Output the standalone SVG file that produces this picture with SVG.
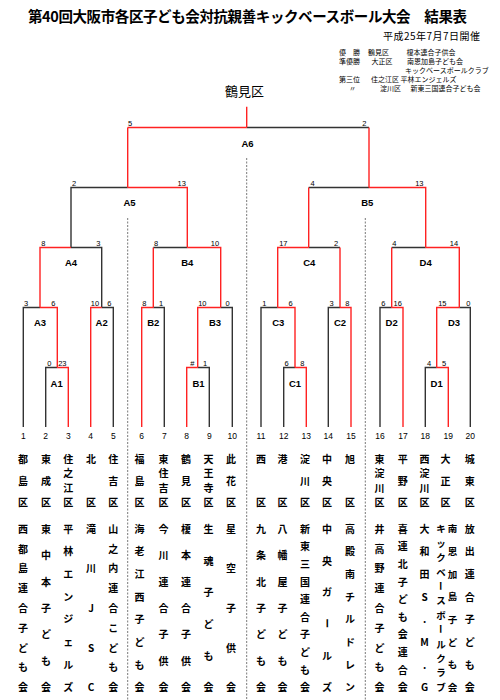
<svg xmlns="http://www.w3.org/2000/svg" width="500" height="700" viewBox="0 0 500 700">
<style>
.j{font-family:"Noto Sans CJK JP","Noto Sans CJK SC",sans-serif;fill:#000}
.n{font-family:"Liberation Sans",Arial,sans-serif;fill:#000}
.c{text-anchor:middle;dominant-baseline:central}
.sc{font-size:7.5px}
.ml{font-size:9.5px;font-weight:bold}
.tn{font-size:8.5px}
.v{font-size:10px;font-weight:bold}
.vs{font-size:9.5px;font-weight:bold}
.r{font-size:7px;dominant-baseline:central}
.l{fill:none;stroke:#333;stroke-width:1.4}
.w{fill:none;stroke:#f22;stroke-width:1.4}
.d{fill:none;stroke:#555;stroke-width:0.8;stroke-dasharray:2 1.5}
</style>

<g id="header">
<text class="j" x="28" y="15" font-size="14.5" font-weight="bold" dominant-baseline="central" textLength="439">第40回大阪市各区子ども会対抗親善キックベースボール大会　結果表</text>
<text class="j" x="383" y="35" font-size="10" dominant-baseline="central" textLength="97">平成25年7月7日開催</text>
<g id="results">
<text class="j r" x="339" y="52.3">優　勝</text>
<text class="j r" x="368" y="52.3">鶴見区</text>
<text class="j r" x="406.5" y="52.3">榎本連合子供会</text>
<text class="j r" x="339" y="61.3">準優勝</text>
<text class="j r" x="371.5" y="61.3">大正区</text>
<text class="j r" x="407" y="61.3">南恩加島子ども会</text>
<text class="j r" x="405" y="69.8">キックベースボールクラブ</text>
<text class="j r" x="339" y="78.7">第三位</text>
<text class="j r" x="371" y="78.7">住之江区</text>
<text class="j r" x="400.5" y="78.7">平林エンジェルズ</text>
<text class="j r" x="349" y="87.7">〃</text>
<text class="j r" x="380" y="87.7">淀川区</text>
<text class="j r" x="410.5" y="87.7">新東三国連合子ども会</text>
</g>
<text id="champion" class="j c" x="244.5" y="90" font-size="13">鶴見区</text>
</g>

<g id="connectors">
<path class="d" d="M127.7 218V700M246.7 158V700M365.3 218V700"/>
<path class="l" d="M246.7 127.5H369
M127.7 187.5H71V247.5
M71 247.5H101.7V307.5
M40 307.5H23.3V427
M57.3 367.5H45.7V427
M101.7 307.5H113.3V427
M369 187.5H308.7
M187.3 247.5H153.3
M153.3 307.5H164.3V427
M220.7 307.5H232.3V427
M197.7 367.5H209.3V427
M308.7 247.5H340
M277.7 307.5H261V427
M295 367.5H283.7V427
M340 307.5H328.3V427
M425.7 247.5H391.7
M391.7 307.5H380V427
M459.3 307.5H470.3V427
M436.7 367.5H425.3V427"/>
<path class="w" d="M246.7 106.7V127.5
M127.7 127.5H246.7
M127.7 127.5V187.5
M369 127.5V187.5
M127.7 187.5H187.3V247.5
M187.3 247.5H220.7V307.5
M153.3 247.5V307.5
M220.7 307.5H197.7V367.5
M197.7 367.5H186.7V427
M153.3 307.5H141.7V427
M369 187.5H425.7V247.5
M308.7 187.5V247.5
M308.7 247.5H277.7V307.5
M340 247.5V307.5
M277.7 307.5H295V367.5
M295 367.5H306.3V427
M340 307.5H351V427
M425.7 247.5H459.3V307.5
M391.7 247.5V307.5
M459.3 307.5H436.7V367.5
M436.7 367.5H448.3V427
M391.7 307.5H403V427
M71 247.5H40V307.5
M40 307.5H57.3V367.5
M57.3 367.5H68.3V427
M101.7 307.5H90.7V427"/>
</g>

<g id="match-A6"><text class="n c ml" x="247.5" y="143">A6</text><text class="n c sc" x="130" y="123.3">5</text><text class="n c sc" x="364.3" y="123.3">2</text></g>
<g id="match-A5"><text class="n c ml" x="129.5" y="202.7">A5</text><text class="n c sc" x="74" y="183.5">2</text><text class="n c sc" x="181.7" y="183.5">13</text></g>
<g id="match-B5"><text class="n c ml" x="367.3" y="202.7">B5</text><text class="n c sc" x="312.7" y="183.5">4</text><text class="n c sc" x="419.3" y="183.5">13</text></g>
<g id="match-A4"><text class="n c ml" x="71" y="262.7">A4</text><text class="n c sc" x="43.3" y="243.5">8</text><text class="n c sc" x="98.3" y="243.5">3</text></g>
<g id="match-B4"><text class="n c ml" x="187.3" y="262.7">B4</text><text class="n c sc" x="156" y="243.5">8</text><text class="n c sc" x="215" y="243.5">10</text></g>
<g id="match-C4"><text class="n c ml" x="309.3" y="262.7">C4</text><text class="n c sc" x="283.3" y="243.5">17</text><text class="n c sc" x="336" y="243.5">2</text></g>
<g id="match-D4"><text class="n c ml" x="425.7" y="262.7">D4</text><text class="n c sc" x="394.3" y="243.5">4</text><text class="n c sc" x="454" y="243.5">14</text></g>
<g id="match-A3"><text class="n c ml" x="40" y="322.7">A3</text><text class="n c sc" x="26" y="303.5">3</text><text class="n c sc" x="53.3" y="303.5">6</text></g>
<g id="match-A2"><text class="n c ml" x="101.7" y="322.7">A2</text><text class="n c sc" x="95" y="303.5">10</text><text class="n c sc" x="109.3" y="303.5">6</text></g>
<g id="match-B2"><text class="n c ml" x="153.3" y="322.7">B2</text><text class="n c sc" x="144.3" y="303.5">8</text><text class="n c sc" x="161" y="303.5">1</text></g>
<g id="match-B3"><text class="n c ml" x="215" y="322.7">B3</text><text class="n c sc" x="202.3" y="303.5">10</text><text class="n c sc" x="227.7" y="303.5">0</text></g>
<g id="match-C3"><text class="n c ml" x="278.3" y="322.7">C3</text><text class="n c sc" x="264.3" y="303.5">1</text><text class="n c sc" x="290.7" y="303.5">6</text></g>
<g id="match-C2"><text class="n c ml" x="340" y="322.7">C2</text><text class="n c sc" x="331.7" y="303.5">3</text><text class="n c sc" x="347.3" y="303.5">8</text></g>
<g id="match-D2"><text class="n c ml" x="391.7" y="322.7">D2</text><text class="n c sc" x="383.3" y="303.5">6</text><text class="n c sc" x="397.7" y="303.5">16</text></g>
<g id="match-D3"><text class="n c ml" x="454" y="322.7">D3</text><text class="n c sc" x="442.3" y="303.5">15</text><text class="n c sc" x="468.3" y="303.5">0</text></g>
<g id="match-A1"><text class="n c ml" x="56.7" y="383.3">A1</text><text class="n c sc" x="49.3" y="363.3">0</text><text class="n c sc" x="62.3" y="363.3">23</text></g>
<g id="match-B1"><text class="n c ml" x="198.5" y="383.3">B1</text><text class="n c sc" x="192.3" y="363.3">#</text><text class="n c sc" x="205" y="363.3">1</text></g>
<g id="match-C1"><text class="n c ml" x="295" y="383.3">C1</text><text class="n c sc" x="286.7" y="363.3">6</text><text class="n c sc" x="302.3" y="363.3">8</text></g>
<g id="match-D1"><text class="n c ml" x="436.7" y="383.3">D1</text><text class="n c sc" x="429" y="363.3">4</text><text class="n c sc" x="444" y="363.3">5</text></g>

<g id="team-1"><text class="n c tn" x="23.3" y="436">1</text>
<text class="j c v" x="23 23 23" y="458 480 501">都島区</text>
<text class="j c v" x="23 23 23 23 23 23 23 23 23" y="528.3 548.1 567.9 587.7 607.5 627.3 647.1 666.9 686.7">西都島連合子ども会</text></g>
<g id="team-2"><text class="n c tn" x="45.7" y="436">2</text>
<text class="j c v" x="46 46 46" y="458 480 501">東成区</text>
<text class="j c v" x="46 46 46 46 46 46 46" y="528.3 554.7 581.1 607.5 633.9 660.3 686.7">東中本子ども会</text></g>
<g id="team-3"><text class="n c tn" x="68.3" y="436">3</text>
<text class="j c v" x="68.3 68.3 68.3 68.3" y="458 472.5 487 501">住之江区</text>
<text class="j c v" x="68.3 68.3 68.3 68.3 68.3 68.3 68.3 68.3" y="528.3 550.9 573.6 596.2 618.8 641.5 664.1 686.7">平林エンジェルズ</text></g>
<g id="team-4"><text class="n c tn" x="90.7" y="436">4</text>
<text class="j c v" x="91 91" y="458 501">北区</text>
<text class="j c v" x="91 91 91 91 91" y="528.3 567.9 607.5 647.1 686.7">滝川JSC</text></g>
<g id="team-5"><text class="n c tn" x="113.3" y="436">5</text>
<text class="j c v" x="113.3 113.3 113.3" y="458 480 501">住吉区</text>
<text class="j c v" x="113.3 113.3 113.3 113.3 113.3 113.3 113.3 113.3 113.3" y="528.3 548.1 567.9 587.7 607.5 627.3 647.1 666.9 686.7">山之内連合こども会</text></g>
<g id="team-6"><text class="n c tn" x="141.7" y="436">6</text>
<text class="j c v" x="139.5 139.5 139.5" y="458 480 501">福島区</text>
<text class="j c v" x="139.5 139.5 139.5 139.5 139.5 139.5 139.5 139.5" y="528.3 550.9 573.6 596.2 618.8 641.5 664.1 686.7">海老江西子ども会</text></g>
<g id="team-7"><text class="n c tn" x="164.3" y="436">7</text>
<text class="j c v" x="163.5 163.5 163.5 163.5" y="458 472.5 487 501">東住吉区</text>
<text class="j c v" x="163.5 163.5 163.5 163.5 163.5 163.5 163.5" y="528.3 554.7 581.1 607.5 633.9 660.3 686.7">今川連合子供会</text></g>
<g id="team-8"><text class="n c tn" x="186.7" y="436">8</text>
<text class="j c v" x="186 186 186" y="458 480 501">鶴見区</text>
<text class="j c v" x="186 186 186 186 186 186 186" y="528.3 554.7 581.1 607.5 633.9 660.3 686.7">榎本連合子供会</text></g>
<g id="team-9"><text class="n c tn" x="209.3" y="436">9</text>
<text class="j c v" x="208.5 208.5 208.5 208.5" y="458 472.5 487 501">天王寺区</text>
<text class="j c v" x="208.5 208.5 208.5 208.5 208.5 208.5" y="528.3 560 591.7 623.3 655 686.7">生魂子ども会</text></g>
<g id="team-10"><text class="n c tn" x="232.3" y="436">10</text>
<text class="j c v" x="231 231 231" y="458 480 501">此花区</text>
<text class="j c v" x="231 231 231 231 231" y="528.3 567.9 607.5 647.1 686.7">星空子供会</text></g>
<g id="team-11"><text class="n c tn" x="261" y="436">11</text>
<text class="j c v" x="261 261" y="458 501">西区</text>
<text class="j c v" x="261 261 261 261 261 261 261" y="528.3 554.7 581.1 607.5 633.9 660.3 686.7">九条北子ども会</text></g>
<g id="team-12"><text class="n c tn" x="283.7" y="436">12</text>
<text class="j c v" x="282.5 282.5" y="458 501">港区</text>
<text class="j c v" x="282.5 282.5 282.5 282.5 282.5 282.5 282.5" y="528.3 554.7 581.1 607.5 633.9 660.3 686.7">八幡屋子ども会</text></g>
<g id="team-13"><text class="n c tn" x="306.3" y="436">13</text>
<text class="j c v" x="305 305 305" y="458 480 501">淀川区</text>
<text class="j c v" x="305 305 305 305 305 305 305 305 305 305" y="528.3 545.9 563.5 581.1 598.7 616.3 633.9 651.5 669.1 686.7">新東三国連合子ども会</text></g>
<g id="team-14"><text class="n c tn" x="328.3" y="436">14</text>
<text class="j c v" x="327 327 327" y="458 480 501">中央区</text>
<text class="j c v" x="327 327 327" y="528.3 560 591.7">中央ガ</text>
<text class="j c v" x="327" y="623.3" transform="rotate(90 327 623.3)">ー</text>
<text class="j c v" x="327 327" y="655 686.7">ルズ</text></g>
<g id="team-15"><text class="n c tn" x="351" y="436">15</text>
<text class="j c v" x="350 350" y="458 501">旭区</text>
<text class="j c v" x="350 350 350 350 350 350 350 350" y="528.3 550.9 573.6 596.2 618.8 641.5 664.1 686.7">高殿南チルドレン</text></g>
<g id="team-16"><text class="n c tn" x="380" y="436">16</text>
<text class="j c v" x="379.5 379.5 379.5 379.5" y="458 472.5 487 501">東淀川区</text>
<text class="j c v" x="379.5 379.5 379.5 379.5 379.5 379.5 379.5 379.5 379.5" y="528.3 548.1 567.9 587.7 607.5 627.3 647.1 666.9 686.7">井高野連合子ども会</text></g>
<g id="team-17"><text class="n c tn" x="403" y="436">17</text>
<text class="j c v" x="402.7 402.7 402.7" y="458 480 501">平野区</text>
<text class="j c v" x="402.7 402.7 402.7 402.7 402.7 402.7 402.7 402.7 402.7 402.7" y="528.3 545.9 563.5 581.1 598.7 616.3 633.9 651.5 669.1 686.7">喜連北子ども会連合会</text></g>
<g id="team-18"><text class="n c tn" x="425.3" y="436">18</text>
<text class="j c v" x="424.5 424.5 424.5 424.5" y="458 472.5 487 501">西淀川区</text>
<text class="j c v" x="424.5 424.5 424.5 424.5 424.5 424.5 424.5 424.5" y="528.3 550.9 573.6 596.2 618.8 641.5 664.1 686.7">大和田S.M.G</text></g>
<g id="team-19"><text class="n c tn" x="448.3" y="436">19</text>
<text class="j c v" x="445.5 445.5 445.5" y="458 480 501">大正区</text>
<text class="j c vs" x="441 441 441 441" y="528.3 542.7 557.1 571.5">キックベ</text>
<text class="j c vs" x="441" y="585.9" transform="rotate(90 441 585.9)">ー</text>
<text class="j c vs" x="441 441" y="600.3 614.7">スボ</text>
<text class="j c vs" x="441" y="629.1" transform="rotate(90 441 629.1)">ー</text>
<text class="j c vs" x="441 441 441 441" y="643.5 657.9 672.3 686.7">ルクラブ</text>
<text class="j c vs" x="452.5 452.5 452.5 452.5 452.5 452.5 452.5 452.5" y="528.3 550.9 573.6 596.2 618.8 641.5 664.1 686.7">南恩加島子ども会</text></g>
<g id="team-20"><text class="n c tn" x="470.3" y="436">20</text>
<text class="j c v" x="469.7 469.7 469.7" y="458 480 501">城東区</text>
<text class="j c v" x="469.7 469.7 469.7 469.7 469.7 469.7 469.7 469.7" y="528.3 550.9 573.6 596.2 618.8 641.5 664.1 686.7">放出連合子ども会</text></g>
</svg>
